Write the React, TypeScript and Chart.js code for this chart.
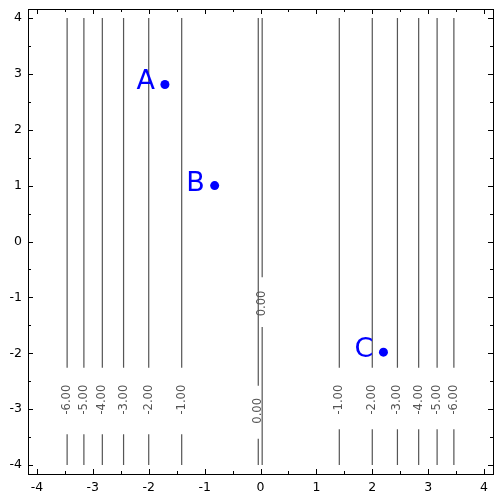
import { useEffect, useRef } from "react";
import { Chart, registerables } from "chart.js";

Chart.register(...registerables);

const axisMin = -4.16;
const axisMax = 4.16;
const majorTicks = [-4, -3, -2, -1, 0, 1, 2, 3, 4];
const minorTicks = [-3.5, -2.5, -1.5, -0.5, 0.5, 1.5, 2.5, 3.5];

const contourX = [-3.46, -3.16, -2.83, -2.45, -2.0, -1.41, -0.04, 0.03, 1.41, 2.0, 2.45, 2.83, 3.16, 3.46];
const contourLabels = ["-6.00", "-5.00", "-4.00", "-3.00", "-2.00", "-1.00", "0.00", "0.00", "-1.00", "-2.00", "-3.00", "-4.00", "-5.00", "-6.00"];
const lineTop = 4;
const lineBottom = -4;
const gapUpper = [-2.26, -2.26, -2.26, -2.26, -2.26, -2.26, -2.58, -0.64, -2.26, -2.26, -2.26, -2.26, -2.26, -2.26];
const gapLower = [-3.45, -3.45, -3.45, -3.45, -3.45, -3.45, -3.53, -1.53, -3.36, -3.36, -3.36, -3.36, -3.36, -3.36];
const labelY = [-2.83, -2.83, -2.83, -2.83, -2.83, -2.83, -3.03, -1.11, -2.83, -2.83, -2.83, -2.83, -2.83, -2.83];

const pointX = [-1.71, -0.82, 2.2];
const pointY = [2.81, 1.0, -1.98];
const pointNames = ["A", "B", "C"];

const LINE_COLOR = "#555555";
const BLUE = "#0000ff";
const FONT = '"DejaVu Sans", sans-serif';

const decor = {
  id: "decor",
  afterDatasetsDraw(chart: any) {
    const { ctx, chartArea: a } = chart;
    const xs = chart.scales.x;
    const ys = chart.scales.y;
    ctx.save();
    // contour labels
    ctx.font = `11.5px ${FONT}`;
    ctx.fillStyle = LINE_COLOR;
    ctx.textAlign = "center";
    ctx.textBaseline = "middle";
    contourX.forEach((cx, i) => {
      ctx.save();
      ctx.translate(xs.getPixelForValue(cx), ys.getPixelForValue(labelY[i]));
      ctx.rotate(-Math.PI / 2);
      ctx.fillText(contourLabels[i], 0, 0);
      ctx.restore();
    });
    // point labels
    ctx.font = `27px ${FONT}`;
    ctx.fillStyle = BLUE;
    ctx.textAlign = "right";
    ctx.textBaseline = "alphabetic";
    pointNames.forEach((n, i) => {
      const px = xs.getPixelForValue(pointX[i]);
      const py = ys.getPixelForValue(pointY[i]);
      ctx.fillText(n, px - 10, py + 5);
    });
    // frame
    ctx.strokeStyle = "#000";
    ctx.lineWidth = 1;
    ctx.strokeRect(Math.round(a.left) + 0.5, Math.round(a.top) + 0.5, Math.round(a.right - a.left), Math.round(a.bottom - a.top));
    // ticks
    const drawTicks = (vals: number[], len: number) => {
      ctx.beginPath();
      vals.forEach((v) => {
        const px = Math.round(xs.getPixelForValue(v)) + 0.5;
        ctx.moveTo(px, a.bottom);
        ctx.lineTo(px, a.bottom - len);
        ctx.moveTo(px, a.top);
        ctx.lineTo(px, a.top + len);
        const py = Math.round(ys.getPixelForValue(v)) + 0.5;
        ctx.moveTo(a.left, py);
        ctx.lineTo(a.left + len, py);
        ctx.moveTo(a.right, py);
        ctx.lineTo(a.right - len, py);
      });
      ctx.stroke();
    };
    drawTicks(majorTicks, 5);
    drawTicks(minorTicks, 3);
    ctx.restore();
  },
};

export default function App() {
  const ref = useRef<HTMLCanvasElement>(null);
  useEffect(() => {
    if (!ref.current) return;
    const contourSets = contourX.map((cx, i) => ({
      type: "scatter" as const,
      data: [
        { x: cx, y: lineTop },
        { x: cx, y: gapUpper[i] },
        { x: cx, y: null },
        { x: cx, y: gapLower[i] },
        { x: cx, y: lineBottom },
      ],
      showLine: true,
      spanGaps: false,
      borderColor: LINE_COLOR,
      borderWidth: 1.2,
      pointRadius: 0,
      order: 2,
    }));
    const pointsSet = {
      type: "scatter" as const,
      data: pointX.map((x, i) => ({ x, y: pointY[i] })),
      pointRadius: 4.5,
      backgroundColor: BLUE,
      borderWidth: 0,
      order: 1,
    };
    const tickCfg = {
      padding: 6,
      color: "#000",
      font: { family: FONT, size: 12.5 },
    };
    const chart = new Chart(ref.current, {
      type: "scatter",
      data: { datasets: [...contourSets, pointsSet] as any },
      options: {
        responsive: false,
        animation: false,
        layout: { autoPadding: false, padding: { top: 9, right: 9, left: 0, bottom: 0 } },
        plugins: { legend: { display: false }, tooltip: { enabled: false } },
        scales: {
          x: {
            type: "linear",
            min: axisMin,
            max: axisMax,
            grid: { display: false, drawTicks: false },
            border: { display: false },
            ticks: { ...tickCfg, maxRotation: 0 },
            afterBuildTicks: (s: any) => {
              s.ticks = majorTicks.map((v) => ({ value: v }));
            },
            afterFit: (s: any) => {
              s.height = 26;
              s.paddingLeft = 0;
              s.paddingRight = 0;
              s.paddingTop = 0;
              s.paddingBottom = 0;
            },
          },
          y: {
            type: "linear",
            min: axisMin,
            max: axisMax,
            grid: { display: false, drawTicks: false },
            border: { display: false },
            ticks: tickCfg,
            afterBuildTicks: (s: any) => {
              s.ticks = majorTicks.map((v) => ({ value: v }));
            },
            afterFit: (s: any) => {
              s.width = 28;
              s.paddingLeft = 0;
              s.paddingRight = 0;
              s.paddingTop = 0;
              s.paddingBottom = 0;
            },
          },
        },
      } as any,
      plugins: [decor],
    });
    return () => chart.destroy();
  }, []);
  return (
    <div style={{ position: "absolute", left: 0, top: 0, width: 502, height: 500, background: "#fff" }}>
      <canvas ref={ref} width={502} height={500} />
    </div>
  );
}
